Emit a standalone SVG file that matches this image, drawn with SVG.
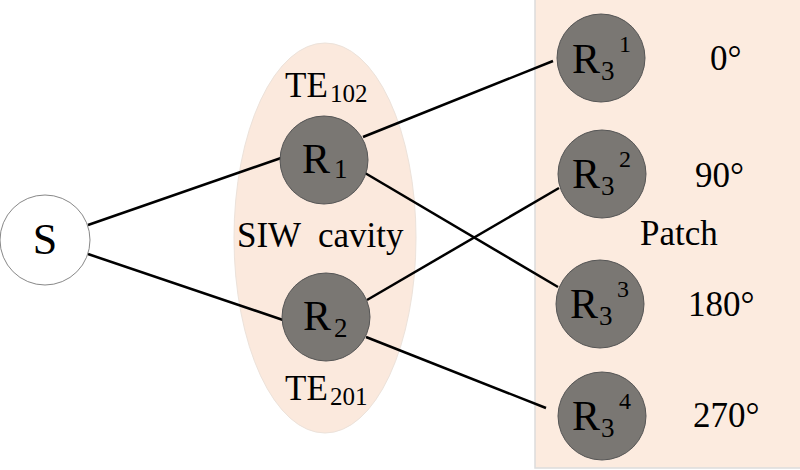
<svg xmlns="http://www.w3.org/2000/svg" width="800" height="470" viewBox="0 0 800 470" font-family="'Liberation Serif', 'DejaVu Serif', 'Times New Roman', serif">
<style>
text{font-family:"Liberation Serif","DejaVu Serif","Times New Roman",serif;fill:#000}
.big{font-size:35px}
.sub{font-size:25px}
.rl{font-size:42px}
.rs{font-size:27px}
.sup{font-size:24px}
.node{fill:#7a7773;stroke:#555;stroke-width:1}
.conn line{stroke:#000;stroke-width:2.5}
</style>
<rect id="patch-region" x="535" y="-1" width="267" height="469" fill="#fcebdf" stroke="#dcdcdc" stroke-width="1.5"/>
<ellipse id="siw-cavity-region" cx="325" cy="238" rx="91" ry="195" fill="#fbe9dd" stroke="#ece2da" stroke-width="1"/>
<g id="connectors" class="conn">
<line x1="88" y1="225" x2="281" y2="158"/>
<line x1="88" y1="254" x2="283" y2="320"/>
<line x1="363" y1="137" x2="553" y2="61"/>
<line x1="365" y1="173" x2="558" y2="287"/>
<line x1="367" y1="300" x2="559" y2="188"/>
<line x1="366" y1="337" x2="546" y2="408"/>
</g>
<g id="S">
<circle cx="45" cy="240" r="45" fill="#fff" stroke="#888" stroke-width="1"/>
<text x="45" y="254" font-size="44" text-anchor="middle">S</text>
</g>
<g id="R1">
<circle class="node" cx="324" cy="160" r="44"/>
<text class="rl" x="302" y="173">R</text><text class="rs" x="334" y="178">1</text>
</g>
<g id="R2">
<circle class="node" cx="326" cy="317" r="44"/>
<text class="rl" x="303" y="330">R</text><text class="rs" x="334" y="337">2</text>
</g>
<g id="R3-1">
<circle class="node" cx="601" cy="58" r="44"/>
<text class="rl" x="572" y="73">R</text><text class="rs" x="601" y="80">3</text><text class="sup" x="619" y="52">1</text>
</g>
<g id="R3-2">
<circle class="node" cx="602" cy="174" r="44"/>
<text class="rl" x="572" y="188">R</text><text class="rs" x="601" y="195">3</text><text class="sup" x="619" y="167">2</text>
</g>
<g id="R3-3">
<circle class="node" cx="600" cy="304" r="44"/>
<text class="rl" x="570" y="318">R</text><text class="rs" x="599" y="325">3</text><text class="sup" x="617" y="297">3</text>
</g>
<g id="R3-4">
<circle class="node" cx="602" cy="416" r="44"/>
<text class="rl" x="572" y="430">R</text><text class="rs" x="601" y="437">3</text><text class="sup" x="619" y="409">4</text>
</g>
<g id="labels">
<text class="big" x="285" y="97">TE</text><text class="sub" x="330" y="102">102</text>
<text class="big" x="285" y="400">TE</text><text class="sub" x="330" y="405">201</text>
<text class="big" x="237" y="247" style="white-space:pre">SIW  cavity</text>
<text class="big" x="640" y="245">Patch</text>
<text class="big" x="710" y="70">0°</text>
<text class="big" x="695" y="187">90°</text>
<text class="big" x="688" y="316">180°</text>
<text class="big" x="693" y="427">270°</text>
</g>
</svg>
